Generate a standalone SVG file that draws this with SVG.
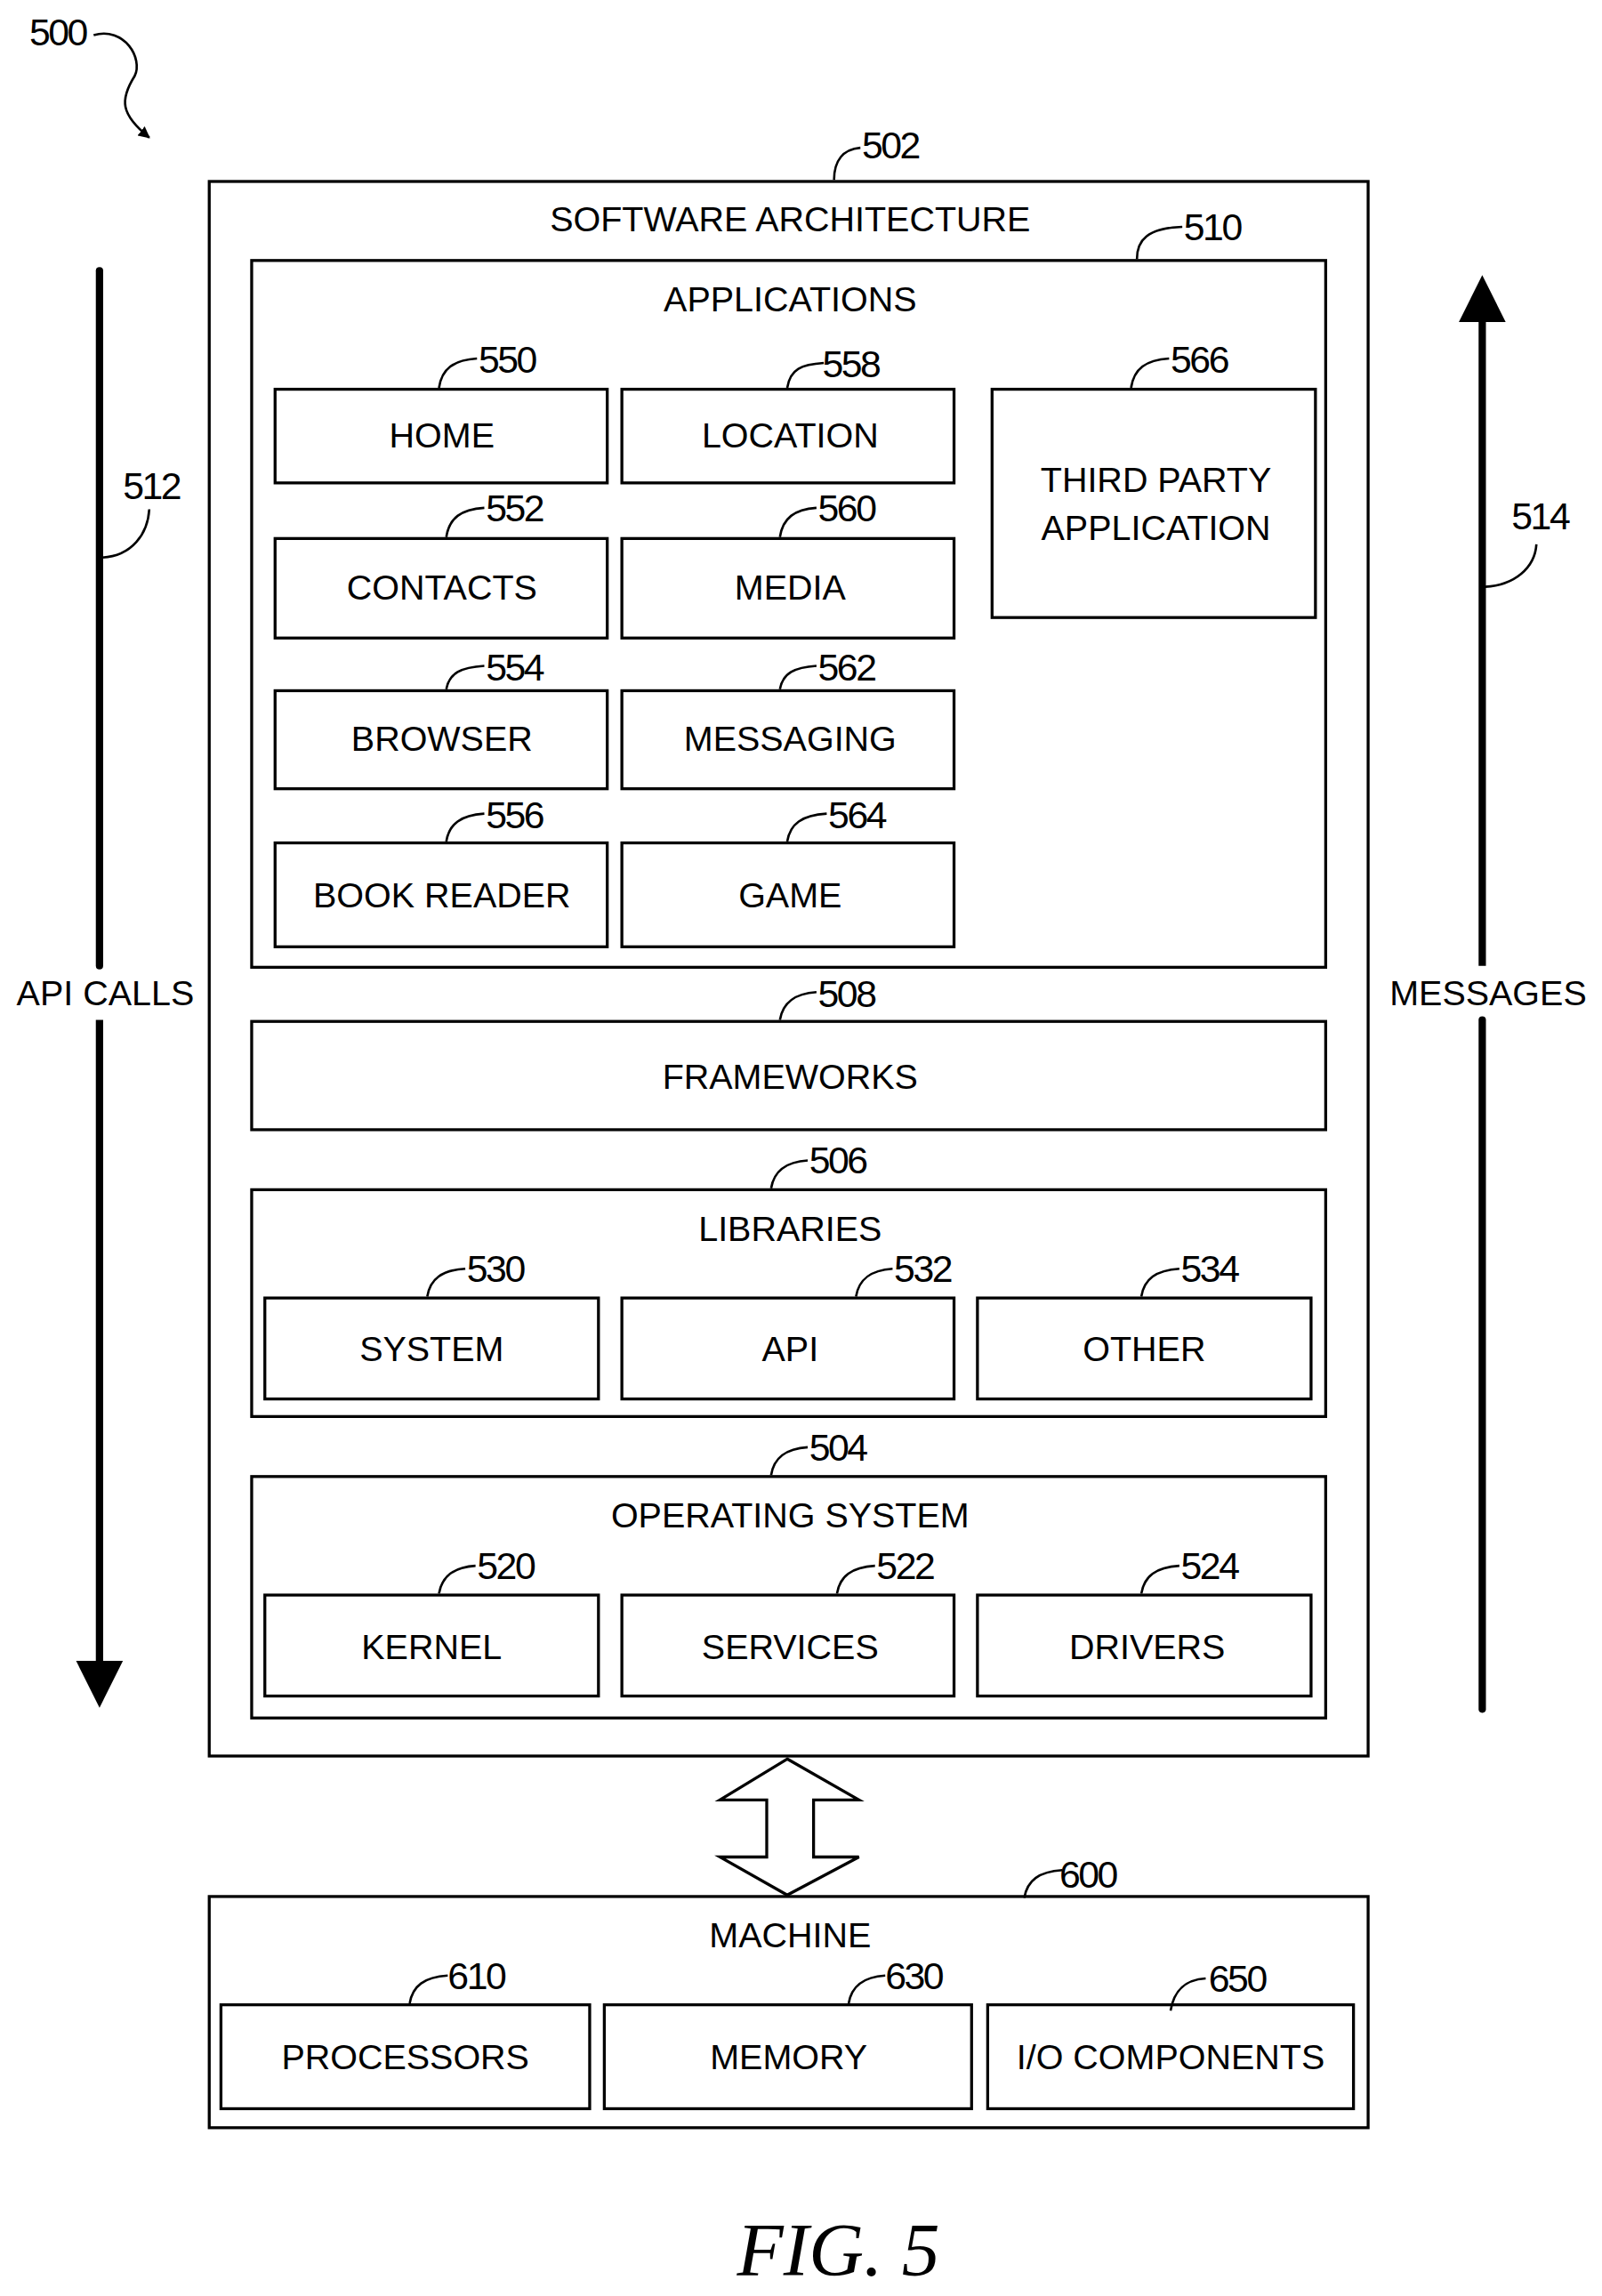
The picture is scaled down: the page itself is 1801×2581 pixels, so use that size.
<svg xmlns="http://www.w3.org/2000/svg" width="1801" height="2581" viewBox="0 0 1801 2581">
<style>
.b{fill:none;stroke:#000;stroke-width:2}
.l{fill:none;stroke:#000;stroke-width:1.6}
text{font-family:"Liberation Sans",Arial,sans-serif;font-size:24px;fill:#000}
.c{text-anchor:middle}
.n{font-size:26px;letter-spacing:-1.5px}
</style>
<defs>
<marker id="ah" viewBox="0 0 10 10" refX="9" refY="5" markerWidth="5" markerHeight="5" orient="auto"><path d="M0,0 L10,5 L0,10 z"/></marker>
</defs>
<rect width="1801" height="2581" fill="#fff"/>
<g transform="scale(1.645)">
<g id="ref500">
<text class="n" x="20" y="31">500</text>
<path class="l" stroke-width="2" d="M64,24 C85,18 98,40 92,52 C82,68 82,78 102,94" marker-end="url(#ah)"/>
</g>
<g id="n502">
<rect class="b" x="143" y="124" width="792" height="1076"/>
<text class="c" x="540" y="158">SOFTWARE ARCHITECTURE</text>
<path class="l" d="M570,123 C570,110 576,102 588,101"/><text class="n" x="589" y="108">502</text>
</g>
<g id="n510">
<rect class="b" x="172" y="178" width="734" height="483"/>
<text class="c" x="540" y="213">APPLICATIONS</text>
<path class="l" d="M777,177 C777,164 784,156 808,155"/><text class="n" x="809" y="164">510</text>
</g>
<g id="n550"><rect class="b" x="188" y="266" width="227" height="64"/><text class="c" x="302" y="306">HOME</text><path class="l" d="M300,265 C302,252 310,246 326,245"/><text class="n" x="327" y="255">550</text></g>
<g id="n558"><rect class="b" x="425" y="266" width="227" height="64"/><text class="c" x="540" y="306">LOCATION</text><path class="l" d="M538,265 C540,252 548,249 563,248"/><text class="n" x="562" y="258">558</text></g>
<g id="n566"><rect class="b" x="678" y="266" width="221" height="156"/><text class="c" x="790" y="336">THIRD PARTY</text><text class="c" x="790" y="369">APPLICATION</text><path class="l" d="M773,265 C775,252 783,246 799,245"/><text class="n" x="800" y="255">566</text></g>
<g id="n552"><rect class="b" x="188" y="368" width="227" height="68"/><text class="c" x="302" y="410">CONTACTS</text><path class="l" d="M305,367 C307,354 315,348 331,347"/><text class="n" x="332" y="356">552</text></g>
<g id="n560"><rect class="b" x="425" y="368" width="227" height="68"/><text class="c" x="540" y="410">MEDIA</text><path class="l" d="M533,367 C535,354 543,348 558,347"/><text class="n" x="559" y="356">560</text></g>
<g id="n554"><rect class="b" x="188" y="472" width="227" height="67"/><text class="c" x="302" y="513">BROWSER</text><path class="l" d="M305,471 C307,460 315,456 331,455"/><text class="n" x="332" y="465">554</text></g>
<g id="n562"><rect class="b" x="425" y="472" width="227" height="67"/><text class="c" x="540" y="513">MESSAGING</text><path class="l" d="M533,471 C535,460 543,456 558,455"/><text class="n" x="559" y="465">562</text></g>
<g id="n556"><rect class="b" x="188" y="576" width="227" height="71"/><text class="c" x="302" y="620">BOOK READER</text><path class="l" d="M305,575 C307,563 315,557 331,556"/><text class="n" x="332" y="566">556</text></g>
<g id="n564"><rect class="b" x="425" y="576" width="227" height="71"/><text class="c" x="540" y="620">GAME</text><path class="l" d="M538,575 C540,563 548,557 565,556"/><text class="n" x="566" y="566">564</text></g>
<g id="n508"><rect class="b" x="172" y="698" width="734" height="74"/><text class="c" x="540" y="744">FRAMEWORKS</text><path class="l" d="M533,697 C535,685 543,679 558,678"/><text class="n" x="559" y="688">508</text></g>
<g id="n506"><rect class="b" x="172" y="813" width="734" height="155"/><text class="c" x="540" y="848">LIBRARIES</text><path class="l" d="M527,812 C529,800 537,794 552,793"/><text class="n" x="553" y="802">506</text></g>
<g id="n530"><rect class="b" x="181" y="887" width="228" height="69"/><text class="c" x="295" y="930">SYSTEM</text><path class="l" d="M292,886 C294,874 302,868 318,867"/><text class="n" x="319" y="876">530</text></g>
<g id="n532"><rect class="b" x="425" y="887" width="227" height="69"/><text class="c" x="540" y="930">API</text><path class="l" d="M585,886 C587,874 595,868 610,867"/><text class="n" x="611" y="876">532</text></g>
<g id="n534"><rect class="b" x="668" y="887" width="228" height="69"/><text class="c" x="782" y="930">OTHER</text><path class="l" d="M780,886 C782,874 790,868 806,867"/><text class="n" x="807" y="876">534</text></g>
<g id="n504"><rect class="b" x="172" y="1009" width="734" height="165"/><text class="c" x="540" y="1044">OPERATING SYSTEM</text><path class="l" d="M527,1008 C529,996 537,990 552,989"/><text class="n" x="553" y="998">504</text></g>
<g id="n520"><rect class="b" x="181" y="1090" width="228" height="69"/><text class="c" x="295" y="1134">KERNEL</text><path class="l" d="M300,1089 C302,1077 310,1071 325,1070"/><text class="n" x="326" y="1079">520</text></g>
<g id="n522"><rect class="b" x="425" y="1090" width="227" height="69"/><text class="c" x="540" y="1134">SERVICES</text><path class="l" d="M572,1089 C574,1077 582,1071 598,1070"/><text class="n" x="599" y="1079">522</text></g>
<g id="n524"><rect class="b" x="668" y="1090" width="228" height="69"/><text class="c" x="784" y="1134">DRIVERS</text><path class="l" d="M780,1089 C782,1077 790,1071 806,1070"/><text class="n" x="807" y="1079">524</text></g>
<g id="n600"><rect class="b" x="143" y="1296" width="792" height="158"/><text class="c" x="540" y="1331">MACHINE</text><path class="l" d="M700,1297 C702,1285 710,1279 726,1278"/><text class="n" x="724" y="1290">600</text></g>
<g id="n610"><rect class="b" x="151" y="1370" width="252" height="71"/><text class="c" x="277" y="1414">PROCESSORS</text><path class="l" d="M280,1369 C282,1357 290,1351 306,1350"/><text class="n" x="306" y="1359">610</text></g>
<g id="n630"><rect class="b" x="413" y="1370" width="251" height="71"/><text class="c" x="539" y="1414">MEMORY</text><path class="l" d="M580,1369 C582,1357 590,1351 605,1350"/><text class="n" x="605" y="1359">630</text></g>
<g id="n650"><rect class="b" x="675" y="1370" width="250" height="71"/><text class="c" x="800" y="1414">I/O COMPONENTS</text><path class="l" d="M800,1374 C802,1362 808,1353 824,1352"/><text class="n" x="826" y="1361">650</text></g>
<g id="connectors">
<path class="b" d="M538,1202 L587,1230 L556,1230 L556,1269 L587,1269 L538,1295 L492,1269 L524,1269 L524,1230 L492,1230 Z" stroke-linejoin="miter"/>
<line x1="68" y1="185" x2="68" y2="660" stroke="#000" stroke-width="5" stroke-linecap="round"/>
<line x1="68" y1="697" x2="68" y2="1140" stroke="#000" stroke-width="5"/>
<path d="M52,1135 L84,1135 L68,1167 Z"/>
<line x1="1013" y1="218" x2="1013" y2="660" stroke="#000" stroke-width="5"/>
<line x1="1013" y1="697" x2="1013" y2="1168" stroke="#000" stroke-width="5" stroke-linecap="round"/>
<path d="M997,220 L1029,220 L1013,188 Z"/>
</g>
<g id="lbl512"><text class="c" x="72" y="687">API CALLS</text><path class="l" d="M70,381 C90,380 101,365 102,348"/><text class="n" x="84" y="341">512</text></g>
<g id="lbl514"><text class="c" x="1017" y="687">MESSAGES</text><path class="l" d="M1015,401 C1035,400 1049,388 1050,372"/><text class="n" x="1033" y="362">514</text></g>
<text x="573" y="1555" class="c" style="font-family:'Liberation Serif',serif;font-style:italic;font-size:52px">FIG. 5</text>
</g>
</svg>
